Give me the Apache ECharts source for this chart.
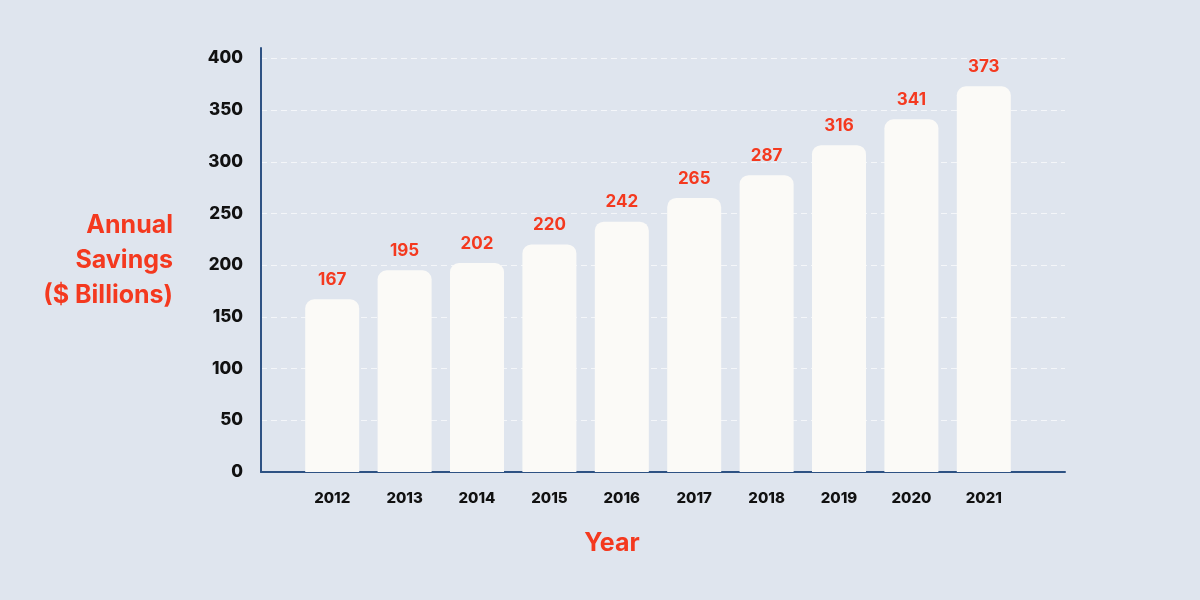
<!DOCTYPE html>
<html>
<head>
<meta charset="utf-8">
<title>Annual Savings</title>
<script src="https://cdn.jsdelivr.net/npm/echarts@6/dist/echarts.min.js"></script>
<style>
	html, body { margin: 0; padding: 0; background: #dfe5ee; }
	#chart { width: 1200px; height: 600px; }
</style>
</head>
<body>
<div id="chart"></div>
<script>
var years = ["2012", "2013", "2014", "2015", "2016", "2017", "2018", "2019", "2020", "2021"];
var savings = [167, 195, 202, 220, 242, 265, 287, 316, 341, 373];
var yMin = 0;
var yMax = 410;
var yStep = 50;

var red = "#f4391f";
var axisBlue = "#2e5283";
var font = "Inter";

var chart = echarts.init(document.getElementById("chart"));

chart.setOption({
	backgroundColor: "#dfe5ee",
	textStyle: { fontFamily: font },
	animation: false,
	grid: [
		// frame: axis lines, tick labels and dashed grid
		{ left: 261, right: 135, top: 48, bottom: 128 },
		// bars
		{ left: 296, right: 180, top: 48, bottom: 128 }
	],
	xAxis: [
		{
			gridIndex: 0, type: "value", min: 0, max: 1,
			axisLine: { show: true, lineStyle: { color: axisBlue, width: 2 } },
			axisTick: { show: false },
			axisLabel: { show: false },
			splitLine: { show: false }
		},
		{
			gridIndex: 1, type: "category", data: years,
			axisLine: { show: false },
			axisTick: { show: false },
			axisLabel: { margin: 19, color: "#111", fontSize: 15, fontWeight: 800, fontFamily: font }
		}
	],
	yAxis: [
		{
			gridIndex: 0, type: "value", min: yMin, max: yMax, interval: yStep,
			name: "Annual\nSavings\n($ Billions)",
			nameLocation: "middle", nameRotate: 0, nameGap: 88,
			nameTextStyle: { color: red, fontSize: 25, fontWeight: "bold", lineHeight: 35, align: "right", fontFamily: font, padding: [16, 0, 0, 0] },
			axisLine: { show: true, lineStyle: { color: axisBlue, width: 2 } },
			axisTick: { show: false },
			axisLabel: { margin: 18, color: "#111", fontSize: 17, fontWeight: 800, fontFamily: font, showMaxLabel: false },
			splitLine: { show: true, showMaxLine: false, showMinLine: false, lineStyle: { color: "rgba(255,255,255,0.65)", type: [6, 4], width: 1 } }
		},
		{
			gridIndex: 1, type: "value", min: yMin, max: yMax, interval: yStep,
			show: false, splitLine: { show: false }
		}
	],
	graphic: [
		{
			type: "text", x: 612, y: 543,
			style: { text: "Year", fill: red, fontSize: 25, fontWeight: "bold", fontFamily: font, textAlign: "center", textVerticalAlign: "middle" }
		}
	],
	series: [
		{
			type: "bar", xAxisIndex: 1, yAxisIndex: 1,
			data: savings,
			barWidth: 54,
			itemStyle: { color: "#fbfaf7", borderRadius: [9, 9, 0, 0] },
			label: { show: true, position: "top", distance: 11, color: red, fontSize: 17, fontWeight: "bold", fontFamily: font }
		}
	]
});
</script>
</body>
</html>
